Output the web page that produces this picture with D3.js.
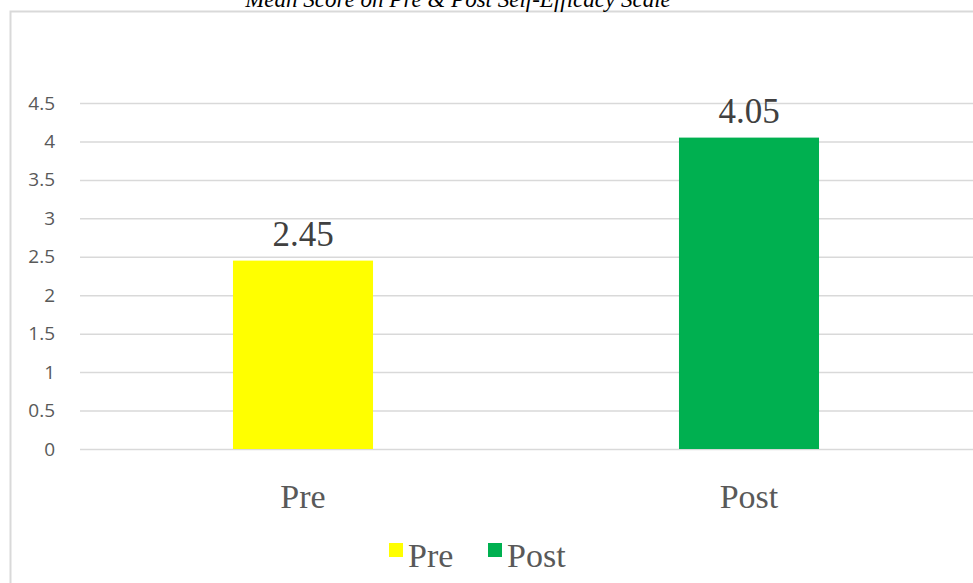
<!DOCTYPE html>
<html><head><meta charset="utf-8">
<script src="https://cdn.jsdelivr.net/npm/d3@7"></script>
<style>body{margin:0;background:#fff}svg{display:block}</style>
</head><body><svg id="c" width="973" height="583"></svg>
<script>
const title = "Mean Score on Pre & Post Self-Efficacy Scale";
const categories = ["Pre", "Post"];
const values = [2.45, 4.05];
const colors = ["#ffff00", "#00b050"];
const yTicks = [0, 0.5, 1, 1.5, 2, 2.5, 3, 3.5, 4, 4.5];
const tickLabels = ["0", "0.5", "1", "1.5", "2", "2.5", "3", "3.5", "4", "4.5"];

const svg = d3.select("#c");
const W = 973, H = 583;
const plot = {left: 80, right: 972, top: 103, bottom: 449};

// chart frame
svg.append("path").attr("d", `M10.5,${H+5} V11.5 H${W+5}`)
  .attr("fill","none").attr("stroke","#d9d9d9").attr("stroke-width",2);

svg.append("text").attr("x", 458).attr("y", 7).attr("text-anchor","middle")
  .attr("font-family","'Liberation Serif', serif").attr("font-style","italic")
  .attr("font-size", 23).attr("fill","#000").text(title);

const y = d3.scaleLinear().domain([0, 4.5]).range([plot.bottom, plot.top]);
const x = d3.scaleBand().domain(categories).range([plot.left, plot.right]).padding(0);
const barW = x.bandwidth() * 0.314;

// gridlines
const yAxis = d3.axisLeft(y).tickValues(yTicks).tickSize(-(W + 10 - plot.left))
  .tickFormat((d,i) => tickLabels[i]).tickPadding(25);
const ga = svg.append("g").attr("transform", `translate(${plot.left},0)`).call(yAxis);
ga.select(".domain").remove();
ga.selectAll(".tick line").attr("stroke","#d9d9d9").attr("stroke-width",1.5);
ga.selectAll(".tick text").attr("font-family","'Open Sans', 'Liberation Sans', sans-serif")
  .attr("font-size",19).attr("fill","#595959");

// bars
svg.append("g").selectAll("rect").data(values).join("rect")
  .attr("x", (d,i) => x(categories[i]) + x.bandwidth()/2 - barW/2)
  .attr("y", d => y(d))
  .attr("width", barW)
  .attr("height", d => y(0) - y(d))
  .attr("fill", (d,i) => colors[i]);

// data labels
svg.append("g").selectAll("text").data(values).join("text")
  .attr("x", (d,i) => x(categories[i]) + x.bandwidth()/2)
  .attr("y", d => y(d) - 15)
  .attr("text-anchor","middle")
  .attr("font-family","'Liberation Serif', serif").attr("font-size",35)
  .attr("fill","#404040").text(d => d.toFixed(2));

// category labels
const xAxis = d3.axisBottom(x).tickSize(0).tickPadding(0);
const gx = svg.append("g").attr("transform", `translate(0,${plot.bottom})`).call(xAxis);
gx.select(".domain").remove();
gx.selectAll(".tick text").attr("dy", null).attr("y", 59)
  .attr("font-family","'Liberation Serif', serif").attr("font-size",34).attr("fill","#595959");

// legend
const legX = [389, 488];
const lg = svg.append("g");
categories.forEach((c,i) => {
  lg.append("rect").attr("x", legX[i]).attr("y", 543).attr("width", 14).attr("height", 14).attr("fill", colors[i]);
  lg.append("text").attr("x", legX[i] + 19).attr("y", 567)
    .attr("font-family","'Liberation Serif', serif").attr("font-size",34).attr("fill","#595959").text(c);
});
</script></body></html>
